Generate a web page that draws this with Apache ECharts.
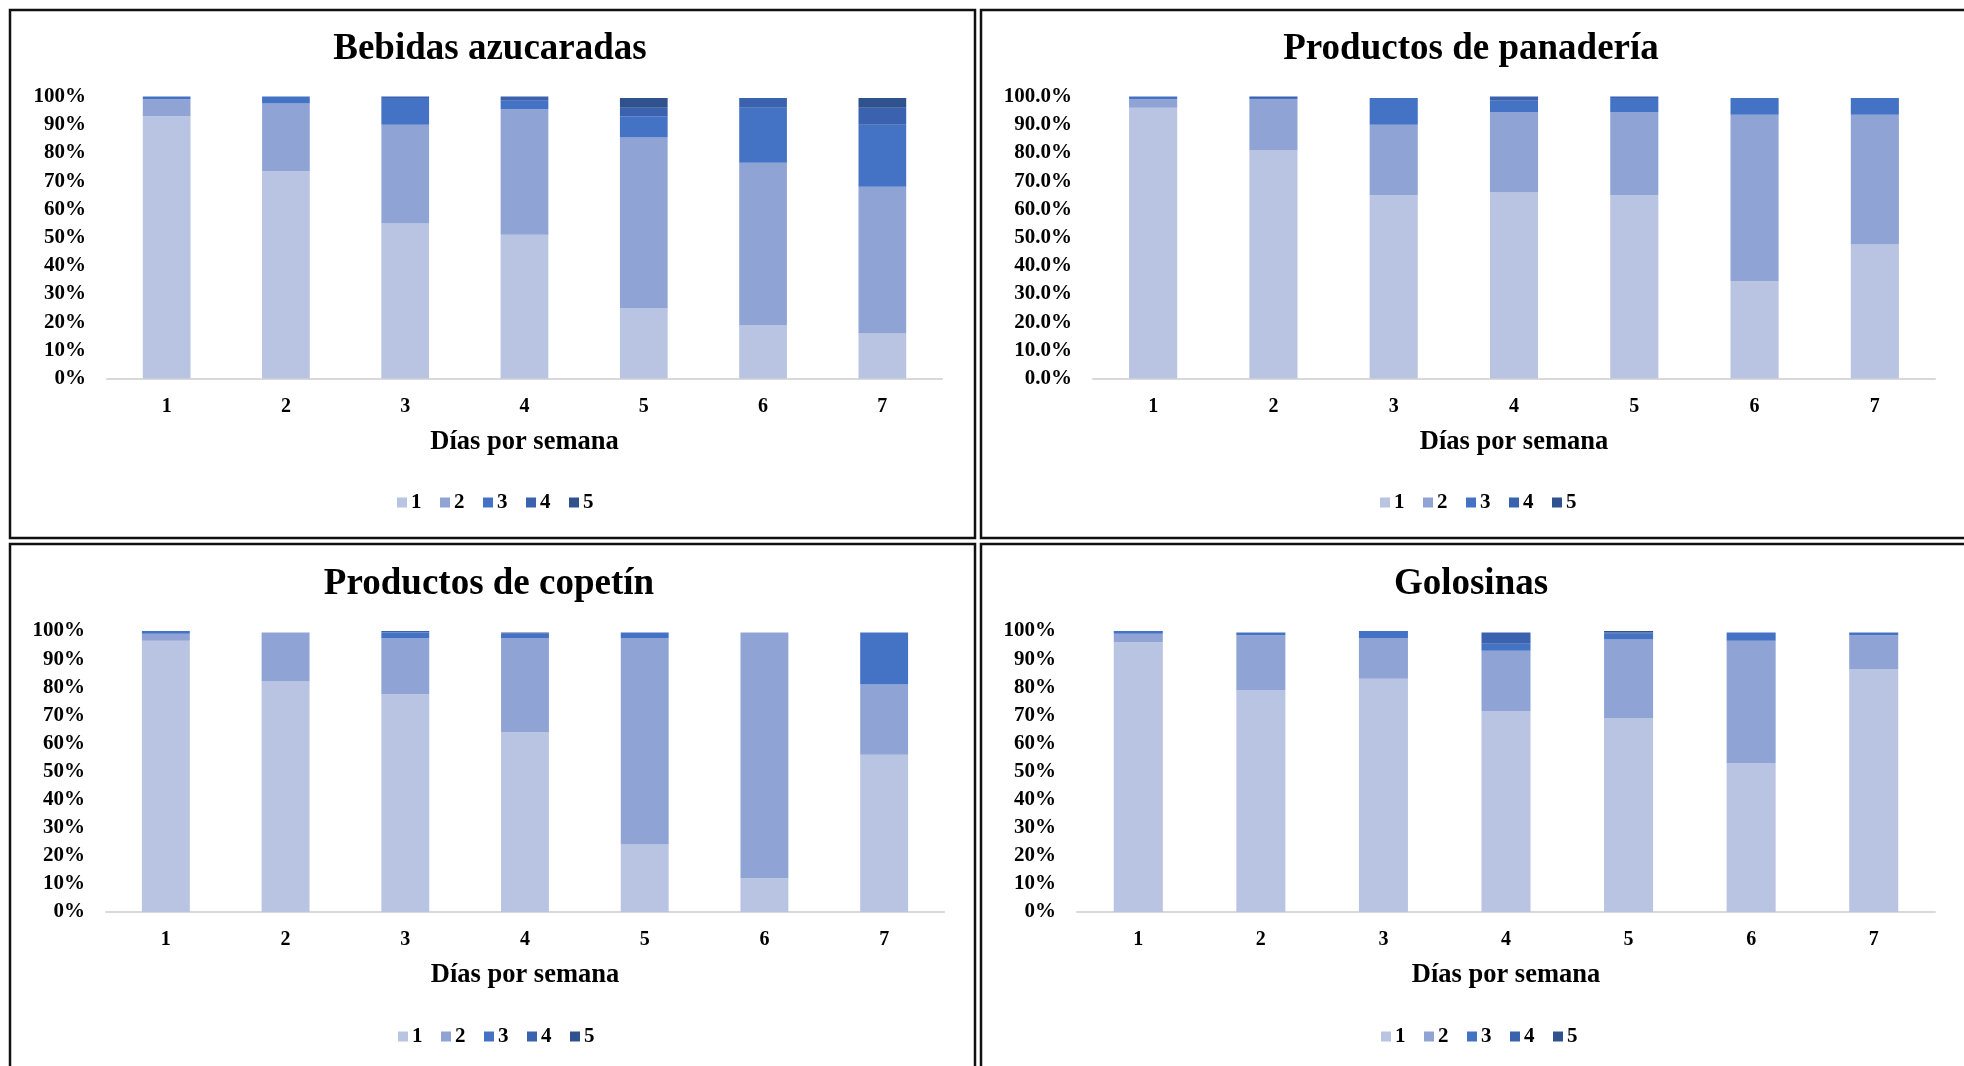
<!DOCTYPE html>
<html>
<head>
<meta charset="utf-8">
<script src="https://cdn.jsdelivr.net/npm/echarts@6/dist/echarts.min.js"></script>
<style>
html,body{margin:0;padding:0;background:#fff;}
#chart{width:1964px;height:1066px;}
</style>
</head>
<body>
<div id="chart"></div>
<script>
// ---- data ----
const categories = ['1', '2', '3', '4', '5', '6', '7'];
const seriesNames = ['1', '2', '3', '4', '5'];
const panelTitles = ['Bebidas azucaradas', 'Productos de panadería', 'Productos de copetín', 'Golosinas'];
const xAxisTitle = 'Días por semana';
const yTickValues = [0, 10, 20, 30, 40, 50, 60, 70, 80, 90, 100];

// Bebidas azucaradas (% per frequency 1..5)
const bebidas1 = [93, 73.5, 55, 51, 25, 19, 16];
const bebidas2 = [6, 24, 35, 44.5, 60.5, 57.5, 52];
const bebidas3 = [1, 2.5, 9.5, 3, 7.5, 19.5, 22];
const bebidas4 = [0, 0, 0.5, 1.5, 3, 3.5, 6];
const bebidas5 = [0, 0, 0, 0, 3.5, 0, 3.5];

// Productos de panadería
const panaderia1 = [96, 81, 65, 66, 65, 34.5, 47.5];
const panaderia2 = [3, 18, 25, 28.5, 29.5, 59, 46];
const panaderia3 = [1, 0.5, 9.5, 4, 5, 6, 6];
const panaderia4 = [0, 0.5, 0, 1.5, 0.5, 0, 0];
const panaderia5 = [0, 0, 0, 0, 0, 0, 0];

// Productos de copetín
const copetin1 = [96.5, 82, 77.5, 64, 24, 12, 56];
const copetin2 = [2.5, 17.5, 20, 33.5, 73.5, 87.5, 25];
const copetin3 = [1, 0, 2, 1.5, 2, 0, 18.5];
const copetin4 = [0, 0, 0.5, 0.5, 0, 0, 0];
const copetin5 = [0, 0, 0, 0, 0, 0, 0];

// Golosinas
const golosinas1 = [96, 79, 83, 71.5, 69, 53, 86.5];
const golosinas2 = [3, 19.5, 14.5, 21.5, 28, 43.5, 12];
const golosinas3 = [1, 1, 2.5, 2.5, 2, 3, 1];
const golosinas4 = [0, 0, 0, 4, 0.5, 0, 0];
const golosinas5 = [0, 0, 0, 0, 0.5, 0, 0];

const panelData = [
  [bebidas1, bebidas2, bebidas3, bebidas4, bebidas5],
  [panaderia1, panaderia2, panaderia3, panaderia4, panaderia5],
  [copetin1, copetin2, copetin3, copetin4, copetin5],
  [golosinas1, golosinas2, golosinas3, golosinas4, golosinas5]
];
const yDecimals = [0, 1, 0, 0];

// ---- style / layout ----
const colors = ['#B9C3E2', '#8FA3D4', '#4472C4', '#3B62AE', '#2F528F'];
const FONT = '"Liberation Serif", "Times New Roman", serif';
const grids = [
  {left: 107, top: 96.5, width: 835, height: 282},
  {left: 1093, top: 96.5, width: 842, height: 282},
  {left: 106, top: 631, width: 838, height: 281},
  {left: 1077, top: 631, width: 858, height: 281}
];
const titlePos = [[490, 31], [1471, 31], [489, 566], [1471, 566]];
const legendPos = [[397, 492], [1380, 492], [398, 1026], [1381, 1026]];
const borders = [
  {x: 10, y: 10, width: 965, height: 528},
  {x: 981, y: 10, width: 1000, height: 528},
  {x: 10, y: 544, width: 965, height: 560},
  {x: 981, y: 544, width: 1000, height: 560}
];

const chart = echarts.init(document.getElementById('chart'), null, {renderer: 'canvas'});

const option = {
  backgroundColor: '#ffffff',
  animation: false,
  color: colors,
  title: panelTitles.map((t, i) => ({
    text: t,
    left: titlePos[i][0],
    top: titlePos[i][1],
    textAlign: 'center',
    padding: 0,
    textStyle: {fontFamily: FONT, fontWeight: 'bold', fontSize: 37, color: '#000'}
  })),
  legend: panelTitles.map((t, i) => ({
    data: seriesNames,
    left: legendPos[i][0],
    top: legendPos[i][1],
    padding: 0,
    icon: 'rect',
    itemWidth: 10,
    itemHeight: 10,
    itemGap: 18.5,
    textStyle: {fontFamily: FONT, fontWeight: 'bold', fontSize: 21, color: '#000', padding: [0, 0, 0, -1]}
  })),
  grid: grids.map(g => Object.assign({outerBoundsMode: 'none', containLabel: false}, g)),
  xAxis: grids.map((g, i) => ({
    type: 'category',
    gridIndex: i,
    data: categories,
    name: xAxisTitle,
    nameLocation: 'middle',
    nameGap: 50,
    nameTextStyle: {fontFamily: FONT, fontWeight: 'bold', fontSize: 26.5, color: '#000'},
    axisLine: {show: true, lineStyle: {color: '#D9D9D9', width: 2}},
    axisTick: {show: false},
    axisLabel: {fontFamily: FONT, fontWeight: 'bold', fontSize: 20, color: '#000', margin: 18}
  })),
  yAxis: grids.map((g, i) => ({
    type: 'value',
    gridIndex: i,
    min: yTickValues[0],
    max: yTickValues[yTickValues.length - 1],
    interval: yTickValues[1] - yTickValues[0],
    axisLine: {show: false},
    axisTick: {show: false},
    splitLine: {show: false},
    axisLabel: {
      fontFamily: FONT, fontWeight: 'bold', fontSize: 21, color: '#000', margin: 21,
      formatter: v => v.toFixed(yDecimals[i]) + '%'
    }
  })),
  series: [],
  graphic: borders.map(b => ({
    type: 'rect',
    shape: b,
    silent: true,
    z: 100,
    style: {fill: 'none', stroke: '#111', lineWidth: 2.5}
  }))
};

panelData.forEach((sets, p) => {
  sets.forEach((vals, s) => {
    option.series.push({
      type: 'bar',
      name: seriesNames[s],
      xAxisIndex: p,
      yAxisIndex: p,
      stack: 'panel' + p,
      barWidth: '40%',
      data: vals,
      itemStyle: {color: colors[s]},
      emphasis: {disabled: true}
    });
  });
});

chart.setOption(option);
</script>
</body>
</html>
